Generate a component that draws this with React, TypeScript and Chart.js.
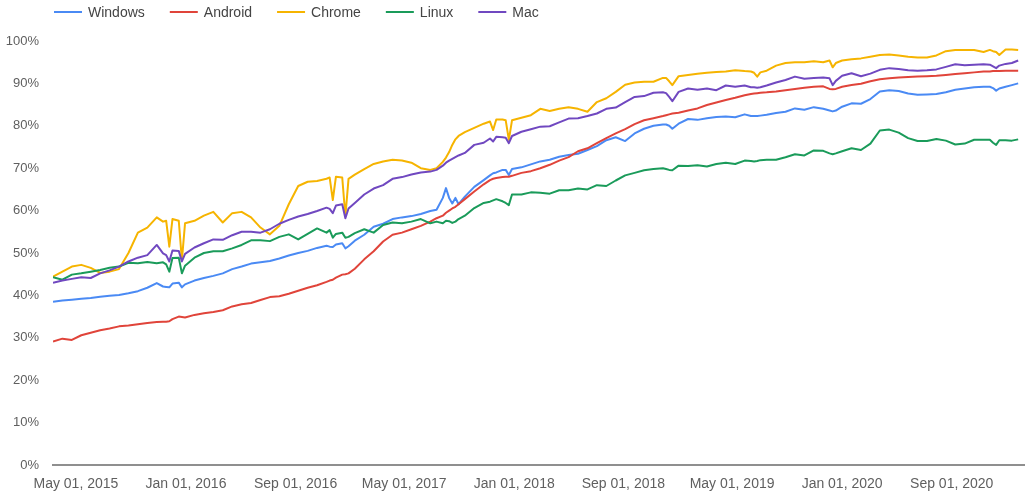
import React, { useEffect, useRef } from "react";
import { Chart, registerables } from "chart.js";

Chart.register(...registerables);

// ---- data ----
const START_DATE = "2015-03-11"; // week 0
const END_DATE = "2021-02-09"; // right edge of the plot

const weeks = [
  0, 3, 6, 9, 12, 15, 18, 21, 24, 27, 30, 33,
  35, 36, 37, 38, 40, 41, 42,
  45, 48, 51, 54, 57, 60, 63, 66, 69, 72, 75, 78, 81, 84, 87,
  88, 89, 90, 92, 93, 94, 96,
  99, 102, 105, 108, 111, 114, 117, 120,
  122, 124, 125, 126, 127, 128, 129, 131,
  134, 137, 139, 140, 141, 143, 144, 145, 146,
  149, 152, 155, 158, 161, 164, 167, 170, 173, 176, 179, 182, 185, 188, 191,
  194, 195, 196, 197, 199,
  202, 205, 208, 211, 214, 217, 220,
  222, 223, 224, 225, 227,
  230, 233, 236, 239, 242, 245,
  247, 248, 249, 251,
  254, 257, 260, 263, 266, 269, 272, 275, 278, 281, 284, 287, 290, 293, 296,
  298, 299, 300, 301, 303, 305, 307,
];

const windowsValues = [
  38.5, 38.8, 39.0, 39.2, 39.4, 39.7, 39.9, 40.1, 40.5, 41.0, 41.8, 42.9,
  42.1, 42.0, 41.9, 42.8, 43.0, 41.9, 42.6,
  43.5, 44.1, 44.6, 45.2, 46.2, 46.8, 47.5, 47.8, 48.1, 48.7, 49.4, 50.0, 50.5, 51.2, 51.7,
  51.5, 51.4, 52.0, 52.3, 51.1, 51.6, 52.9,
  54.3, 56.2, 56.9, 58.0, 58.4, 58.7, 59.2, 59.9,
  60.2, 63.0, 65.3, 63.0, 61.7, 63.0, 61.5, 63.3,
  65.6, 67.2, 68.3, 68.8, 69.0, 69.6, 69.6, 68.4, 69.8,
  70.2, 70.9, 71.6, 72.0, 72.7, 73.1, 73.4, 74.3, 75.2, 76.6, 77.3, 76.4, 78.2, 79.3, 80.0,
  80.3, 80.3, 80.0, 79.3, 80.5,
  81.6, 81.4, 81.8, 82.1, 82.2, 82.0, 82.7,
  82.3, 82.3, 82.3, 82.4, 82.6,
  83.0, 83.3, 84.1, 83.8, 84.4, 84.0,
  83.6, 83.4, 83.6, 84.5,
  85.3, 85.2, 86.3, 88.1, 88.4, 88.2, 87.6, 87.3, 87.4, 87.5, 87.9, 88.5, 88.8, 89.1, 89.2,
  89.2, 88.9, 88.3, 88.8, 89.2, 89.6, 90.0,
];

const androidValues = [
  29.1, 29.8, 29.5, 30.6, 31.2, 31.8, 32.2, 32.7, 32.9, 33.2, 33.5, 33.7,
  33.8, 33.8, 33.9, 34.4, 35.0, 34.9, 34.8,
  35.4, 35.8, 36.1, 36.5, 37.4, 37.9, 38.2, 38.9, 39.6, 39.8, 40.4, 41.1, 41.8, 42.4, 43.2,
  43.5, 43.7, 44.2, 44.9, 45.0, 45.2, 46.3,
  48.5, 50.4, 52.7, 54.3, 54.8, 55.6, 56.4, 57.4,
  58.2, 58.8, 59.5, 60.0, 60.5, 60.9, 61.5, 62.7,
  64.5, 66.2, 67.2, 67.5, 67.7, 67.9, 68.0, 68.0, 68.2,
  68.9, 69.3, 70.0, 70.8, 71.8, 72.6, 74.0, 74.7, 75.9, 77.1, 78.2, 79.2, 80.4, 81.3, 81.8,
  82.3, 82.5, 82.7, 82.9, 83.1,
  83.6, 84.1, 84.9, 85.5, 86.1, 86.6, 87.2,
  87.5, 87.6, 87.7, 87.8, 87.9,
  88.1, 88.4, 88.7, 89.0, 89.2, 89.3,
  88.7, 88.6, 88.7, 89.2,
  89.6, 89.9, 90.5, 91.0, 91.2, 91.4, 91.5, 91.6, 91.7, 91.8, 92.0, 92.2, 92.4, 92.6, 92.8,
  92.8, 92.9, 92.9, 92.9, 93.0, 93.0, 93.0,
];

const chromeValues = [
  44.4, 45.6, 46.8, 47.2, 46.5, 45.3, 45.6, 46.2, 50.0, 54.8, 56.0, 58.4,
  57.4, 57.6, 51.5, 58.0, 57.6, 48.3, 57.0,
  57.6, 58.8, 59.7, 57.2, 59.4, 59.7, 58.4, 56.0, 54.4, 56.4, 61.5, 65.8, 66.8, 67.0, 67.5,
  67.8, 62.5, 68.0, 67.8, 58.6, 67.5, 68.5,
  69.8, 71.0, 71.6, 72.0, 71.8, 71.3, 70.0, 69.6,
  70.0, 71.5, 72.5, 73.8, 75.5, 76.8, 77.6, 78.5,
  79.5, 80.5, 81.0, 79.0, 81.5, 81.5, 81.3, 76.7, 81.3,
  81.9, 82.5, 84.0, 83.5, 84.0, 84.4, 84.0, 83.3, 85.6, 86.5, 88.0, 89.7, 90.2, 90.4, 90.4,
  91.3, 91.3, 90.5, 89.6, 91.7,
  92.0, 92.3, 92.5, 92.7, 92.8, 93.1, 92.9,
  92.8, 92.5, 91.6, 92.6, 93.0,
  94.2, 94.8, 95.0, 95.0, 95.2, 95.0,
  95.4, 93.8, 94.8, 95.4,
  95.7, 95.9, 96.3, 96.7, 96.8, 96.6, 96.3, 96.1, 96.1, 96.6, 97.6, 97.9, 97.9, 97.9, 97.4,
  97.9, 97.6, 97.4, 96.7, 98.0, 98.0, 97.9,
];

const linuxValues = [
  44.3, 43.7, 44.9, 45.2, 45.6, 46.0, 46.5, 46.8, 47.7, 47.6, 47.9, 47.6,
  47.8, 47.3, 45.6, 48.8, 48.9, 45.2, 47.0,
  48.9, 50.0, 50.4, 50.4, 51.1, 51.9, 53.0, 53.0, 52.8, 53.8, 54.4, 53.2, 54.5, 55.8, 54.8,
  55.4, 53.6, 54.5, 54.8, 53.6, 53.8, 54.7,
  55.6, 54.8, 56.6, 57.2, 57.0, 57.4, 58.0, 57.0,
  57.4, 57.0, 57.6, 57.5, 57.1, 57.4, 58.0, 58.8,
  60.6, 61.8, 62.1, 62.4, 62.7, 62.2, 61.8, 61.3, 63.8,
  63.8, 64.3, 64.2, 64.0, 64.8, 64.8, 65.2, 65.0, 66.0, 65.8, 67.1, 68.3, 68.9, 69.5, 69.8,
  70.0, 69.8, 69.6, 69.5, 70.6,
  70.5, 70.7, 70.4, 71.0, 71.3, 71.0, 71.8,
  71.7, 71.6, 71.7, 71.9, 72.0,
  72.0, 72.6, 73.3, 73.0, 74.2, 74.1,
  73.5, 73.3, 73.5, 74.0,
  74.7, 74.3, 75.8, 78.9, 79.1, 78.4, 77.1, 76.4, 76.4, 76.9, 76.5, 75.6, 75.8, 76.7, 76.7,
  76.7, 76.0, 75.5, 76.6, 76.6, 76.5, 76.8,
];

const macValues = [
  43.0, 43.5, 43.9, 44.3, 44.1, 45.2, 45.9, 46.8, 48.0, 48.9, 49.5, 51.9,
  49.9, 49.5, 48.0, 50.6, 50.5, 48.0, 49.8,
  51.3, 52.3, 53.2, 53.1, 54.2, 55.0, 55.0, 54.8, 55.6, 56.9, 57.8, 58.6, 59.2, 59.9, 60.7,
  60.4, 59.4, 61.2, 61.5, 58.2, 60.5, 61.8,
  63.8, 65.2, 66.0, 67.5, 67.9, 68.5, 69.0, 69.2,
  69.6, 70.6, 71.3, 71.8, 72.2, 72.6, 73.0, 73.6,
  75.5, 76.0, 77.0, 76.3, 77.4, 77.3, 77.2, 75.9, 77.6,
  78.6, 79.2, 79.8, 79.9, 80.8, 81.7, 81.8, 82.3, 82.9, 84.0, 84.3, 85.6, 86.8, 87.0, 87.8,
  87.9, 87.7, 86.8, 85.8, 88.0,
  88.8, 88.5, 88.8, 88.4, 89.5, 89.2, 89.5,
  89.1, 89.1, 89.0, 89.1, 89.5,
  90.2, 90.8, 91.6, 91.1, 91.3, 91.4,
  91.2, 89.6, 90.6, 91.8,
  92.4, 91.7, 92.3, 93.2, 93.6, 93.4, 93.1, 93.0, 93.1, 93.3, 93.9, 94.5, 94.3, 94.4, 94.5,
  94.4, 94.0, 93.6, 94.2, 94.6, 94.8, 95.4,
];

const seriesNames = ["Windows", "Android", "Chrome", "Linux", "Mac"];
const seriesColors = ["#4a8af4", "#e0443a", "#f6b400", "#1a9b5a", "#7048c0"];
const seriesValues = [windowsValues, androidValues, chromeValues, linuxValues, macValues];

const xTickDates = [
  "2015-05-01", "2016-01-01", "2016-09-01", "2017-05-01", "2018-01-01",
  "2018-09-01", "2019-05-01", "2020-01-01", "2020-09-01",
];
const xTickLabels = [
  "May 01, 2015", "Jan 01, 2016", "Sep 01, 2016", "May 01, 2017", "Jan 01, 2018",
  "Sep 01, 2018", "May 01, 2019", "Jan 01, 2020", "Sep 01, 2020",
];
const yTickValues = [0, 10, 20, 30, 40, 50, 60, 70, 80, 90, 100];

// ---- helpers ----
const DAY_MS = 86400000;
const daysFromStart = (iso: string) => (Date.parse(iso) - Date.parse(START_DATE)) / DAY_MS;

const FONT_FAMILY = '"Liberation Sans", Arial, sans-serif';

const legendPlugin = {
  id: "topLegend",
  afterDraw(chart: any) {
    const ctx = chart.ctx as CanvasRenderingContext2D;
    ctx.save();
    ctx.font = `14px ${FONT_FAMILY}`;
    ctx.textBaseline = "middle";
    ctx.textAlign = "left";
    const y = 12;
    let x = 54;
    seriesNames.forEach((name, i) => {
      ctx.strokeStyle = seriesColors[i];
      ctx.lineWidth = 2;
      ctx.beginPath();
      ctx.moveTo(x, y);
      ctx.lineTo(x + 28, y);
      ctx.stroke();
      ctx.fillStyle = "#444";
      ctx.fillText(name, x + 34, y + 1);
      x += 34 + ctx.measureText(name).width + 25;
    });
    ctx.restore();
  },
};

export default function App() {
  const canvasRef = useRef<HTMLCanvasElement | null>(null);

  useEffect(() => {
    if (!canvasRef.current) return;
    const datasets = seriesNames.map((name, i) => ({
      label: name,
      data: weeks.map((w, j) => ({ x: w * 7, y: seriesValues[i][j] })),
      borderColor: seriesColors[i],
      backgroundColor: seriesColors[i],
      borderWidth: 2,
      pointRadius: 0,
      tension: 0,
      fill: false,
      order: seriesNames.length - i,
      borderJoinStyle: "round" as const,
    }));

    const chart = new Chart(canvasRef.current, {
      type: "line",
      data: { datasets },
      options: {
        animation: false,
        responsive: false,
        devicePixelRatio: 1,
        layout: { padding: { left: 0, top: 41, right: 6, bottom: 11 } },
        plugins: {
          legend: { display: false },
          tooltip: { enabled: false },
        },
        scales: {
          x: {
            type: "linear",
            min: 0,
            max: daysFromStart(END_DATE),
            grid: { display: false, drawTicks: false },
            border: { display: true, color: "#8f8f8f", width: 2 },
            afterBuildTicks: (scale: any) => {
              scale.ticks = xTickDates.map((d) => ({ value: daysFromStart(d) }));
            },
            afterFit: (scale: any) => {
              scale.height = 27;
            },
            ticks: {
              autoSkip: false,
              maxRotation: 0,
              padding: 11,
              color: "#5f5f5f",
              font: { family: FONT_FAMILY, size: 14 },
              callback: (_v: any, index: number) => xTickLabels[index],
            },
          },
          y: {
            min: 0,
            max: 100,
            grid: { display: false, drawTicks: false },
            border: { display: false },
            afterBuildTicks: (scale: any) => {
              scale.ticks = yTickValues.map((v) => ({ value: v }));
            },
            afterFit: (scale: any) => {
              scale.width = 53;
            },
            ticks: {
              padding: 14,
              color: "#5f5f5f",
              font: { family: FONT_FAMILY, size: 13 },
              callback: (v: any) => `${v}%`,
            },
          },
        },
      },
      plugins: [legendPlugin],
    });
    return () => chart.destroy();
  }, []);

  return (
    <div style={{ position: "absolute", left: 0, top: 0, width: 1030, height: 503, background: "#fff" }}>
      <canvas ref={canvasRef} width={1030} height={503} style={{ display: "block" }} />
    </div>
  );
}
